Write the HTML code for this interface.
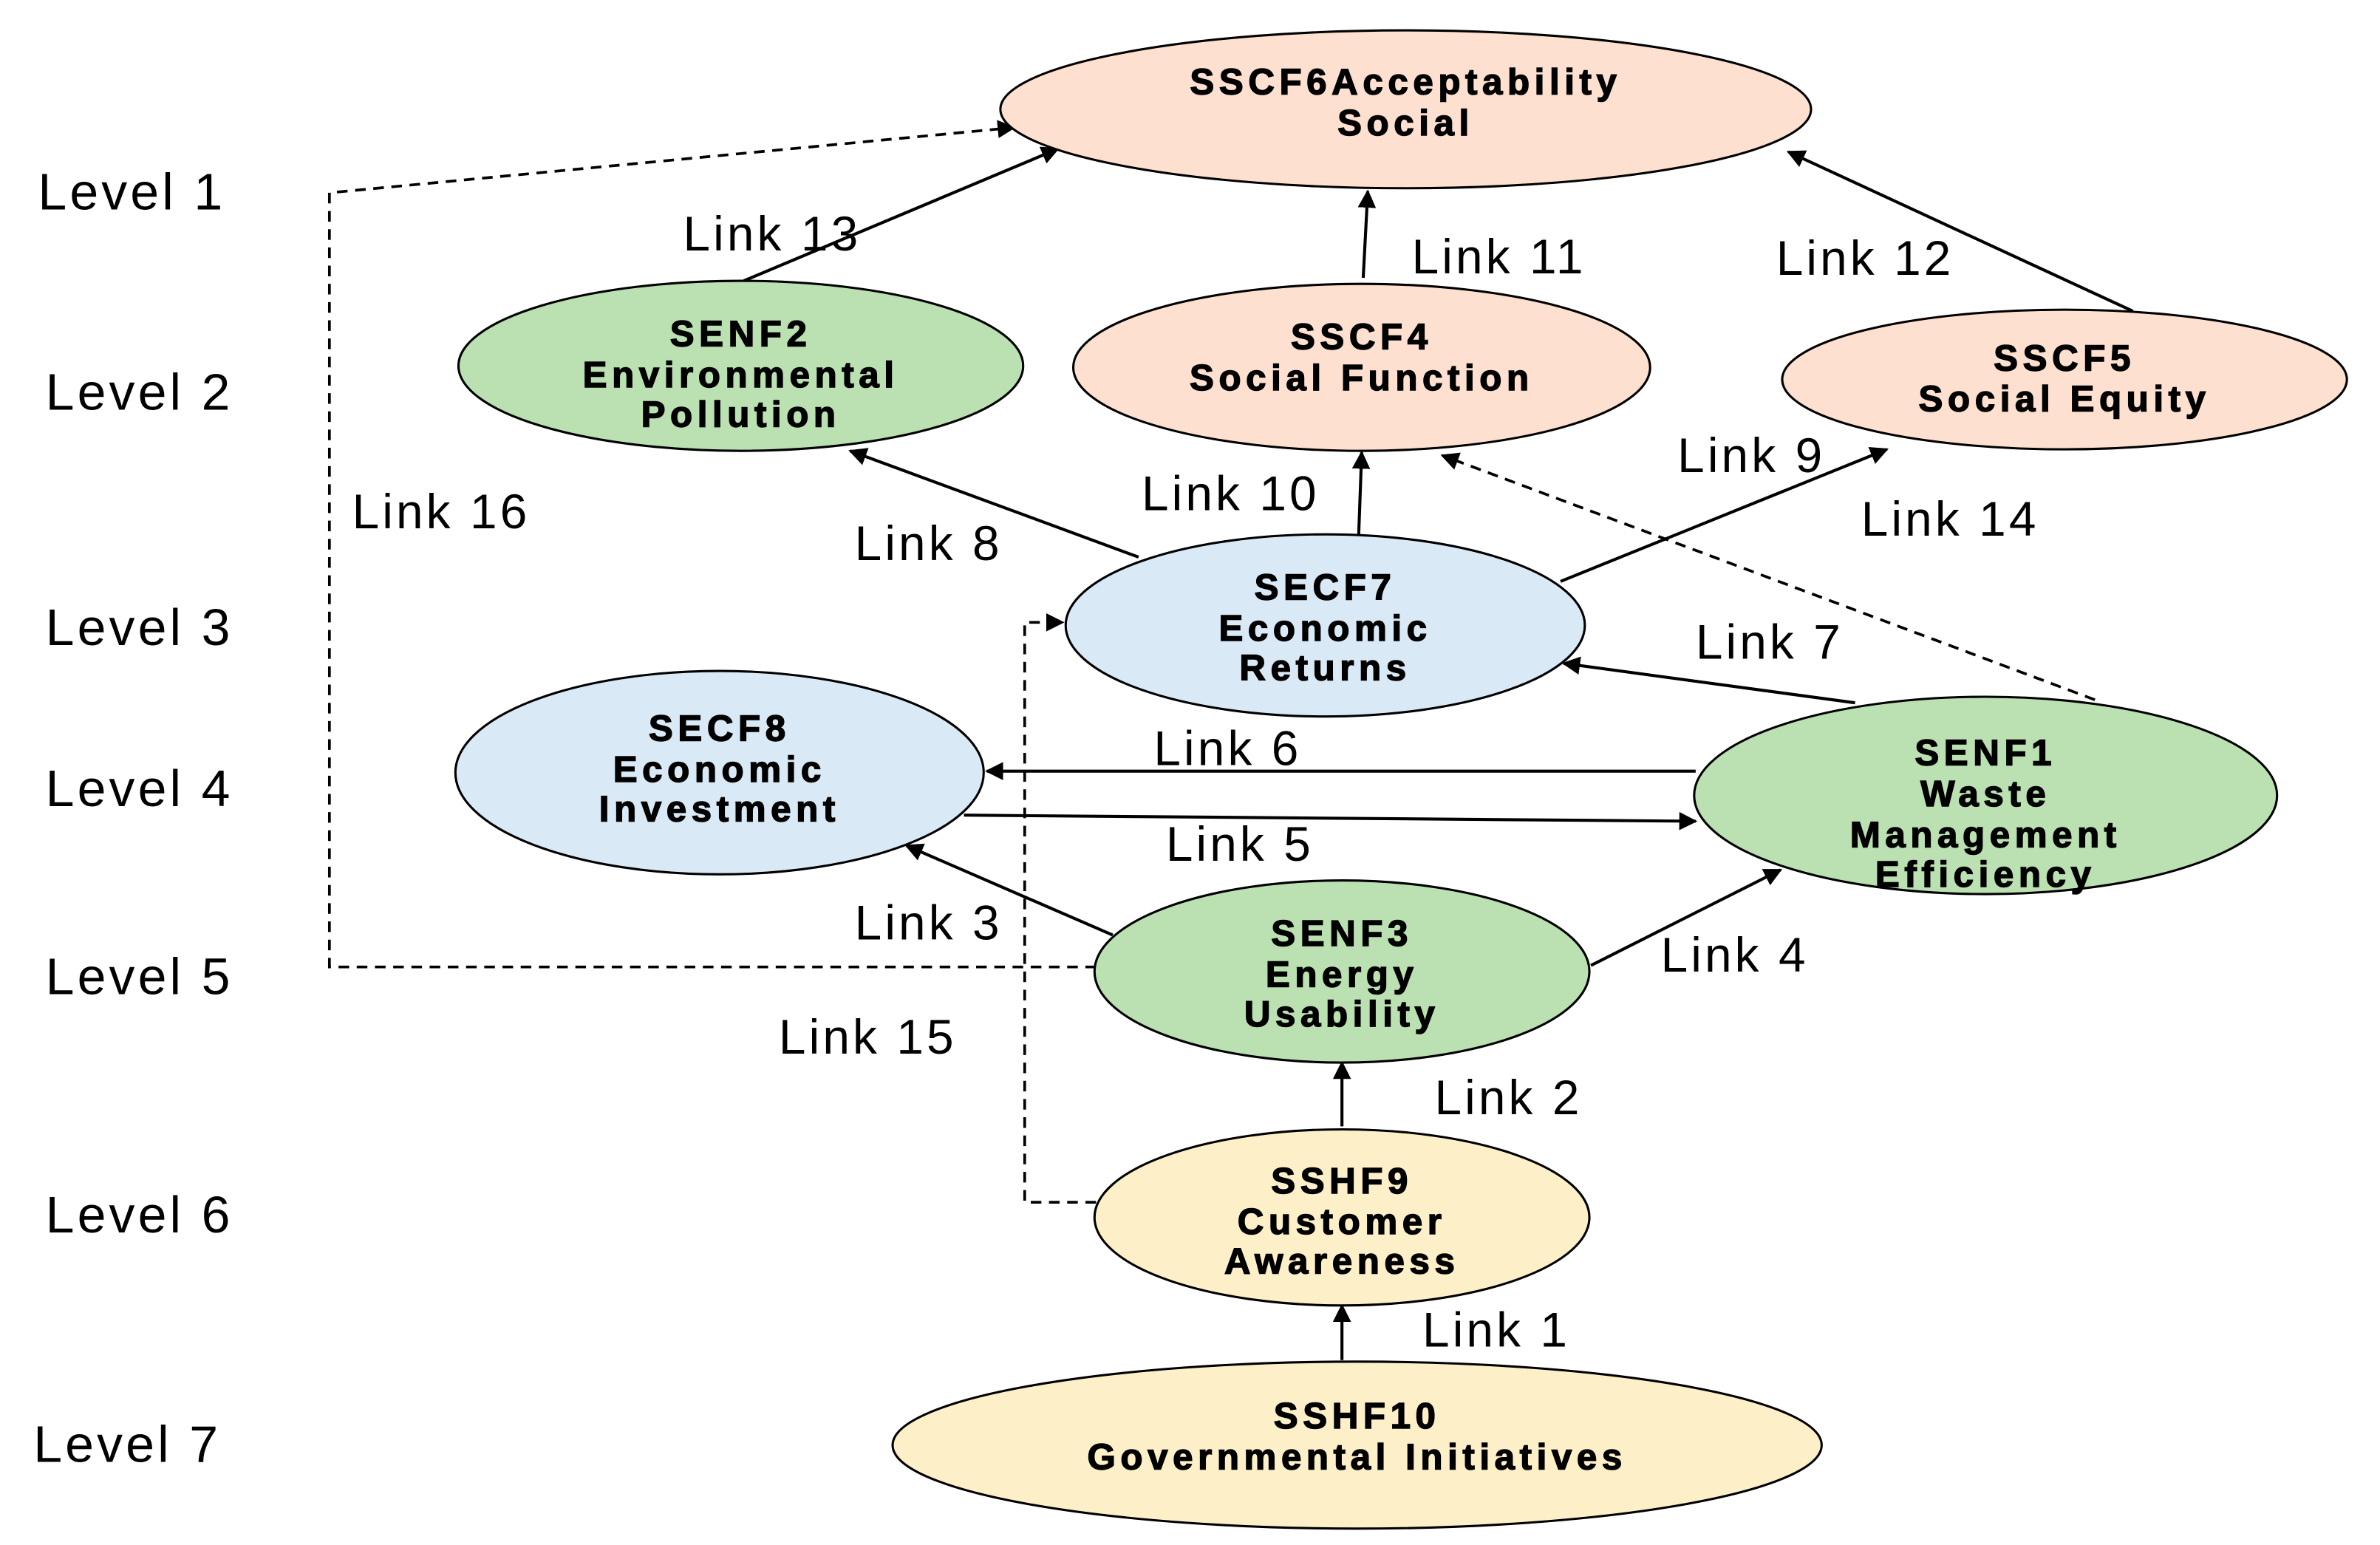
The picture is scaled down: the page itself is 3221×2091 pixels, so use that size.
<!DOCTYPE html>
<html><head><meta charset="utf-8"><style>
html,body{margin:0;padding:0;background:#fff;}
svg{display:block;}
.n{font-family:"Liberation Sans",sans-serif;font-weight:bold;font-size:24px;letter-spacing:3.2px;text-anchor:middle;fill:#000;stroke:#000;stroke-width:0.7;}
.l{font-family:"Liberation Sans",sans-serif;font-size:32px;letter-spacing:2px;fill:#000;}
.lv{font-family:"Liberation Sans",sans-serif;font-size:34px;letter-spacing:2px;fill:#000;}
.e{stroke:#000;stroke-width:1.5;}
.a{stroke:#000;stroke-width:2;fill:none;marker-end:url(#ar2);}
.d{stroke:#000;stroke-width:1.8;fill:none;stroke-dasharray:7,5;marker-end:url(#ar2);}
</style></head><body>
<svg width="3221" height="2091" viewBox="0 0 1567.8 1017.8" preserveAspectRatio="none" xmlns="http://www.w3.org/2000/svg">
<defs>
<marker id="ar2" viewBox="0 0 10 10" refX="9" refY="5" markerWidth="12" markerHeight="12" orient="auto" markerUnits="userSpaceOnUse"><path d="M0,0 L10,5 L0,10 z" fill="#000"/></marker></defs>

<line class="a" x1="490" y1="185" x2="697" y2="98"/>
<line class="a" x1="898" y1="183" x2="901" y2="126"/>
<line class="a" x1="1405" y1="205" x2="1178" y2="100"/>
<polyline class="d" points="722,637 217,637 217,127 668,84"/>
<line class="a" x1="750" y1="367" x2="560" y2="297"/>
<line class="a" x1="895" y1="353" x2="897" y2="298"/>
<line class="a" x1="1028" y1="383" x2="1243" y2="296"/>
<line class="d" x1="1380" y1="461" x2="950" y2="300"/>
<line class="a" x1="1222" y1="463" x2="1030" y2="437"/>
<line class="a" x1="1117" y1="508" x2="650" y2="508"/>
<line class="a" x1="635" y1="537" x2="1117" y2="541"/>
<line class="a" x1="733" y1="616" x2="597" y2="557"/>
<line class="a" x1="1048" y1="636" x2="1173" y2="573"/>
<polyline class="d" points="722,792 675,792 675,410 700,410"/>
<line class="a" x1="884" y1="742" x2="884" y2="700"/>
<line class="a" x1="884" y1="896" x2="884" y2="860"/>

<ellipse class="e" cx="926" cy="72" rx="267" ry="52" fill="#fde0cf"/>
<text class="n" x="926" y="62">SSCF6Acceptability</text><text class="n" x="926" y="89">Social</text>

<ellipse class="e" cx="488" cy="241" rx="186" ry="56" fill="#bbe0b2"/>
<text class="n" x="488" y="228">SENF2</text><text class="n" x="488" y="255">Environmental</text><text class="n" x="488" y="281">Pollution</text>

<ellipse class="e" cx="897" cy="242" rx="190" ry="55" fill="#fde0cf"/>
<text class="n" x="897" y="230">SSCF4</text><text class="n" x="897" y="257">Social Function</text>

<ellipse class="e" cx="1360" cy="250" rx="186" ry="46" fill="#fde0cf"/>
<text class="n" x="1360" y="244">SSCF5</text><text class="n" x="1360" y="271">Social Equity</text>

<ellipse class="e" cx="873" cy="412" rx="171" ry="60" fill="#d9eaf6"/>
<text class="n" x="873" y="395">SECF7</text><text class="n" x="873" y="422">Economic</text><text class="n" x="873" y="448">Returns</text>

<ellipse class="e" cx="474" cy="509" rx="174" ry="67" fill="#d9eaf6"/>
<text class="n" x="474" y="488">SECF8</text><text class="n" x="474" y="515">Economic</text><text class="n" x="474" y="541">Investment</text>

<ellipse class="e" cx="1308" cy="524" rx="192" ry="65" fill="#bbe0b2"/>
<text class="n" x="1308" y="504">SENF1</text><text class="n" x="1308" y="531">Waste</text><text class="n" x="1308" y="558">Management</text><text class="n" x="1308" y="584">Efficiency</text>

<ellipse class="e" cx="884" cy="640" rx="163" ry="60" fill="#bbe0b2"/>
<text class="n" x="884" y="623">SENF3</text><text class="n" x="884" y="650">Energy</text><text class="n" x="884" y="676">Usability</text>

<ellipse class="e" cx="884" cy="802" rx="163" ry="58" fill="#fdf0c8"/>
<text class="n" x="884" y="786">SSHF9</text><text class="n" x="884" y="813">Customer</text><text class="n" x="884" y="839">Awareness</text>

<ellipse class="e" cx="894" cy="952" rx="306" ry="55" fill="#fdf0c8"/>
<text class="n" x="894" y="941">SSHF10</text><text class="n" x="894" y="968">Governmental  Initiatives</text>

<text class="lv" x="25" y="138">Level 1</text>
<text class="lv" x="30" y="270">Level 2</text>
<text class="lv" x="30" y="425">Level 3</text>
<text class="lv" x="30" y="531">Level 4</text>
<text class="lv" x="30" y="655">Level 5</text>
<text class="lv" x="30" y="812">Level 6</text>
<text class="lv" x="22" y="963">Level 7</text>

<text class="l" x="450" y="165">Link 13</text>
<text class="l" x="930" y="180">Link 11</text>
<text class="l" x="1170" y="181">Link 12</text>
<text class="l" x="232" y="348">Link 16</text>
<text class="l" x="563" y="369">Link 8</text>
<text class="l" x="752" y="336">Link 10</text>
<text class="l" x="1105" y="311">Link 9</text>
<text class="l" x="1226" y="353">Link 14</text>
<text class="l" x="1117" y="434">Link 7</text>
<text class="l" x="760" y="504">Link 6</text>
<text class="l" x="768" y="567">Link 5</text>
<text class="l" x="563" y="619">Link 3</text>
<text class="l" x="1094" y="640">Link 4</text>
<text class="l" x="513" y="694">Link 15</text>
<text class="l" x="945" y="734">Link 2</text>
<text class="l" x="937" y="887">Link 1</text>
</svg>
</body></html>
